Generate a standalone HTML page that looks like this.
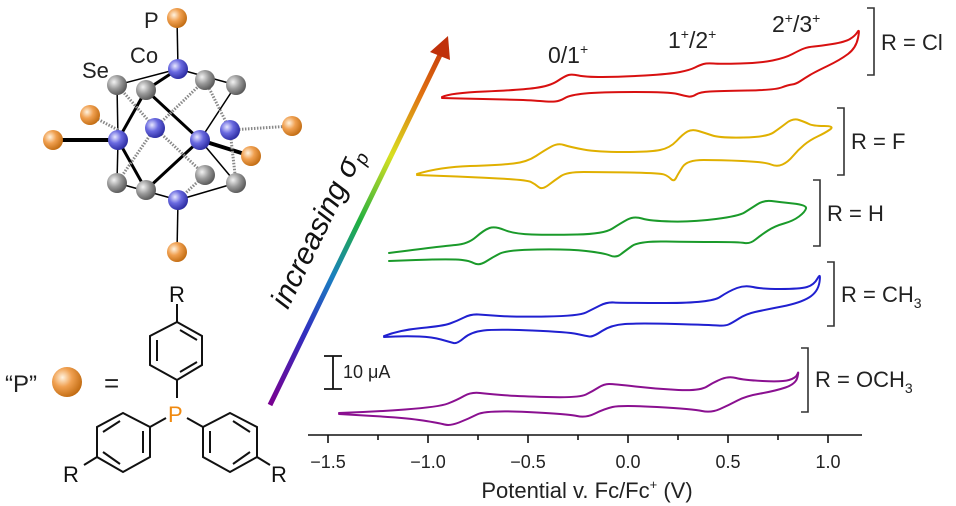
<!DOCTYPE html>
<html><head><meta charset="utf-8"><style>
html,body{margin:0;padding:0;background:#fff;}
svg{display:block;font-family:"Liberation Sans",sans-serif;}
</style></head><body>
<svg id="s" width="956" height="506" viewBox="0 0 956 506" xmlns="http://www.w3.org/2000/svg">
<defs>
<radialGradient id="gb" cx="0.35" cy="0.35" r="0.7"><stop offset="0" stop-color="#e8e8ff"/><stop offset="0.45" stop-color="#6a6ae0"/><stop offset="1" stop-color="#2a2aa0"/></radialGradient>
<radialGradient id="gg" cx="0.35" cy="0.35" r="0.7"><stop offset="0" stop-color="#f2f2f2"/><stop offset="0.5" stop-color="#999"/><stop offset="1" stop-color="#555"/></radialGradient>
<radialGradient id="go" cx="0.35" cy="0.35" r="0.7"><stop offset="0" stop-color="#fff3e0"/><stop offset="0.45" stop-color="#f0a050"/><stop offset="1" stop-color="#c06a10"/></radialGradient>
<linearGradient id="arr" x1="270" y1="405" x2="448" y2="38" gradientUnits="userSpaceOnUse">
<stop offset="0" stop-color="#7a0090"/><stop offset="0.2" stop-color="#3030c0"/><stop offset="0.35" stop-color="#1a80c0"/><stop offset="0.5" stop-color="#20b040"/><stop offset="0.68" stop-color="#d8e020"/><stop offset="0.85" stop-color="#e07010"/><stop offset="1" stop-color="#c0300a"/></linearGradient>
</defs>
<rect width="956" height="506" fill="#fff"/>

<g stroke="#000" stroke-width="1.5" fill="none">
<line x1="177" y1="18" x2="178" y2="69"/><line x1="178" y1="200" x2="177" y2="252"/>
<line x1="117" y1="85" x2="178" y2="69"/><line x1="178" y1="69" x2="236" y2="85"/>
<line x1="146" y1="90" x2="200" y2="140" stroke-width="3"/><line x1="146" y1="90" x2="118" y2="140" stroke-width="3"/>
<line x1="118" y1="140" x2="146" y2="190" stroke-width="3"/><line x1="146" y1="190" x2="200" y2="140" stroke-width="3"/>
<line x1="146" y1="90" x2="178" y2="69" stroke-width="3"/>
<line x1="117" y1="85" x2="118" y2="140"/><line x1="118" y1="140" x2="117" y2="183"/>
<line x1="236" y1="85" x2="200" y2="140"/><line x1="200" y1="140" x2="236" y2="183"/>
<line x1="117" y1="183" x2="178" y2="200"/><line x1="178" y1="200" x2="236" y2="183"/>
<line x1="53" y1="140" x2="118" y2="140" stroke-width="4"/><line x1="200" y1="140" x2="251" y2="156" stroke-width="4"/>
</g>
<g stroke="#888" stroke-width="3" stroke-dasharray="1.5 1.5" fill="none">
<line x1="90" y1="115" x2="118" y2="130"/><line x1="230" y1="130" x2="292" y2="126"/>
<line x1="155" y1="128" x2="205" y2="80"/><line x1="155" y1="128" x2="117" y2="85"/><line x1="155" y1="128" x2="205" y2="175"/><line x1="155" y1="128" x2="117" y2="183"/>
<line x1="230" y1="130" x2="205" y2="80"/><line x1="230" y1="130" x2="236" y2="183"/><line x1="205" y1="175" x2="178" y2="200"/>
</g>
<g>
<circle cx="205" cy="80" r="10" fill="url(#gg)"/><circle cx="205" cy="175" r="10" fill="url(#gg)"/>
<circle cx="155" cy="128" r="10" fill="url(#gb)"/><circle cx="230" cy="130" r="10" fill="url(#gb)"/>
<circle cx="117" cy="85" r="10" fill="url(#gg)"/><circle cx="146" cy="90" r="10" fill="url(#gg)"/><circle cx="236" cy="85" r="10" fill="url(#gg)"/>
<circle cx="117" cy="183" r="10" fill="url(#gg)"/><circle cx="146" cy="190" r="10" fill="url(#gg)"/><circle cx="236" cy="183" r="10" fill="url(#gg)"/>
<circle cx="178" cy="69" r="10" fill="url(#gb)"/><circle cx="118" cy="140" r="10" fill="url(#gb)"/><circle cx="200" cy="140" r="10" fill="url(#gb)"/><circle cx="178" cy="200" r="10" fill="url(#gb)"/>
<circle cx="177" cy="18" r="10" fill="url(#go)"/><circle cx="90" cy="115" r="10" fill="url(#go)"/><circle cx="53" cy="140" r="10" fill="url(#go)"/>
<circle cx="292" cy="126" r="10" fill="url(#go)"/><circle cx="251" cy="156" r="10" fill="url(#go)"/><circle cx="177" cy="252" r="10" fill="url(#go)"/>
</g>
<g fill="#222" font-size="22"><text x="144" y="28">P</text><text x="130" y="63">Co</text><text x="82" y="78">Se</text></g>

<text x="5" y="392" font-size="24" fill="#222">“P”</text>
<circle cx="67" cy="382" r="15" fill="url(#go)"/>
<text x="104" y="392" font-size="26" fill="#222">=</text>
<g stroke="#111" stroke-width="2" fill="none">
<polygon points="177,322 202,336 202,365 177,380 150,365 150,336"/>
<line x1="157" y1="340" x2="157" y2="361"/><line x1="180" y1="330" x2="197" y2="340"/><line x1="180" y1="372" x2="197" y2="362"/>
<line x1="177" y1="322" x2="177" y2="304"/><line x1="177" y1="380" x2="177" y2="398"/>
<polygon points="123,413 150,427 150,457 123,472 97,457 97,427"/>
<line x1="143" y1="431" x2="143" y2="453"/><line x1="103" y1="432" x2="120" y2="421"/><line x1="103" y1="452" x2="120" y2="464"/>
<polygon points="230,413 257,427 257,457 230,472 203,457 203,427"/>
<line x1="210" y1="431" x2="210" y2="453"/><line x1="233" y1="421" x2="250" y2="432"/><line x1="233" y1="464" x2="250" y2="452"/>
<line x1="150" y1="427" x2="166" y2="418"/><line x1="203" y1="427" x2="187" y2="418"/>
<line x1="97" y1="457" x2="84" y2="465"/><line x1="257" y1="457" x2="270" y2="465"/>
</g>
<g font-size="22" fill="#111"><text x="169" y="302">R</text><text x="63" y="482">R</text><text x="271" y="482">R</text></g>
<text x="168" y="422" font-size="22" fill="#f08a10">P</text>

<line x1="270" y1="405" x2="440" y2="55" stroke="url(#arr)" stroke-width="5"/>
<polygon points="448,36 430,52 450,60" fill="#c0300a"/>
<text transform="translate(326,232) rotate(-64)" text-anchor="middle" font-size="30" font-style="italic" fill="#111">increasing <tspan>σ</tspan><tspan font-size="19" dy="6">p</tspan></text>

<g stroke="#111" stroke-width="1.6">
<line x1="308" y1="435" x2="862" y2="435"/>
<line x1="328" y1="435" x2="328" y2="443"/><line x1="428" y1="435" x2="428" y2="443"/><line x1="528" y1="435" x2="528" y2="443"/><line x1="628" y1="435" x2="628" y2="443"/><line x1="728" y1="435" x2="728" y2="443"/><line x1="828" y1="435" x2="828" y2="443"/>
<line x1="378" y1="435" x2="378" y2="440"/><line x1="478" y1="435" x2="478" y2="440"/><line x1="578" y1="435" x2="578" y2="440"/><line x1="678" y1="435" x2="678" y2="440"/><line x1="778" y1="435" x2="778" y2="440"/>
</g>
<g font-size="18" fill="#222" text-anchor="middle">
<text x="328" y="468">−1.5</text><text x="428" y="468">−1.0</text><text x="528" y="468">−0.5</text><text x="628" y="468">0.0</text><text x="728" y="468">0.5</text><text x="828" y="468">1.0</text>
</g>
<text x="587" y="498" font-size="22" fill="#222" text-anchor="middle">Potential v. Fc/Fc<tspan font-size="13" dy="-9">+</tspan><tspan dy="9"> (V)</tspan></text>

<g stroke="#111" stroke-width="1.8"><line x1="333" y1="356" x2="333" y2="389"/><line x1="324" y1="356" x2="342" y2="356"/><line x1="324" y1="389" x2="342" y2="389"/></g>
<text x="343" y="378" font-size="18" fill="#222">10 μA</text>

<g font-size="23" fill="#222">
<text x="548" y="63">0/1<tspan font-size="14" dy="-9">+</tspan></text>
<text x="668" y="48">1<tspan font-size="14" dy="-9">+</tspan><tspan dy="9">/2</tspan><tspan font-size="14" dy="-9">+</tspan></text>
<text x="772" y="32">2<tspan font-size="14" dy="-9">+</tspan><tspan dy="9">/3</tspan><tspan font-size="14" dy="-9">+</tspan></text>
</g>
<g stroke="#333" stroke-width="1.6" fill="none">
<polyline points="867,8 874,8 874,75 867,75"/>
<polyline points="837,108 844,108 844,175 837,175"/>
<polyline points="813,180 820,180 820,246 813,246"/>
<polyline points="827,262 834,262 834,326 827,326"/>
<polyline points="801,348 808,348 808,412 801,412"/>
</g>
<g font-size="22" fill="#222">
<text x="881" y="50">R = Cl</text>
<text x="851" y="149">R = F</text>
<text x="827" y="221">R = H</text>
<text x="841" y="302">R = CH<tspan font-size="14" dy="6">3</tspan></text>
<text x="815" y="387">R = OCH<tspan font-size="14" dy="6">3</tspan></text>
</g>
<g id="cv" fill="none" stroke-width="2" stroke-linejoin="round" stroke-linecap="round"></g>
</svg>
<script>
var curves=[
["#d81010",[[442,97],[450,93],[520,90],[550,86],[565,76],[572,74],[585,77],[620,77],[670,74],[690,70],[700,65],[707,63],[720,64],[760,63],[785,58],[800,50],[808,47],[820,46],[845,42],[855,36],[860,28],[856,48],[840,60],[815,72],[805,78],[796,84],[788,85],[775,90],[720,91],[700,92],[692,97],[685,96],[670,92],[600,92],[570,95],[560,101],[550,102],[530,100],[480,99],[442,98]]],
["#e0b000",[[417,174],[440,167],[500,165],[527,162],[545,150],[558,143],[570,147],[597,152],[650,152],[670,148],[683,134],[692,129],[705,133],[720,138],[767,137],[780,128],[793,118],[805,122],[813,126],[835,126],[825,133],[810,140],[798,150],[788,162],[777,167],[765,162],[720,160],[687,160],[678,174],[674,182],[668,176],[660,173],[600,172],[567,172],[555,180],[542,190],[535,184],[527,180],[470,177],[417,175]]],
["#1a9a2a",[[389,253],[443,246],[468,244],[484,230],[495,226],[514,234],[550,235],[604,234],[621,223],[634,216],[650,221],[693,222],[739,216],[750,209],[764,200],[779,202],[807,205],[805,212],[793,221],[775,226],[761,235],[750,244],[739,242],[693,242],[639,241],[625,251],[616,258],[604,253],[568,249],[507,250],[493,257],[479,266],[468,260],[443,259],[389,261]]],
["#2020d0",[[384,336],[400,330],[443,326],[457,321],[471,314],[486,315],[514,317],[579,316],[593,309],[607,302],[621,303],[711,303],[729,291],[745,285],[761,289],[800,289],[814,285],[821,272],[818,292],[800,303],[764,310],[746,314],[732,323],[725,326],[711,325],[639,323],[611,325],[593,337],[586,336],[568,332],[496,329],[471,332],[457,344],[450,342],[432,337],[407,336],[384,337]]],
["#8a1090",[[339,413],[371,412],[439,407],[457,400],[471,392],[489,394],[514,396],[579,398],[593,391],[604,384],[614,384],[657,389],[700,391],[714,382],[729,376],[743,380],[782,382],[796,378],[799,370],[796,384],[775,391],[746,396],[729,405],[711,413],[693,409],[621,405],[604,409],[586,418],[568,414],[486,410],[468,419],[450,426],[439,423],[407,418],[339,414]]]
];
function sm(p){var d="M"+p[0][0]+","+p[0][1];for(var i=1;i<p.length-1;i++){var mx=(p[i][0]+p[i+1][0])/2,my=(p[i][1]+p[i+1][1])/2;d+=" Q"+p[i][0]+","+p[i][1]+" "+mx+","+my;}var l=p[p.length-1];d+=" L"+l[0]+","+l[1];return d;}
var g=document.getElementById("cv");
curves.forEach(function(c){var e=document.createElementNS("http://www.w3.org/2000/svg","path");e.setAttribute("d",sm(c[1]));e.setAttribute("stroke",c[0]);g.appendChild(e);});
</script>
</body></html>
